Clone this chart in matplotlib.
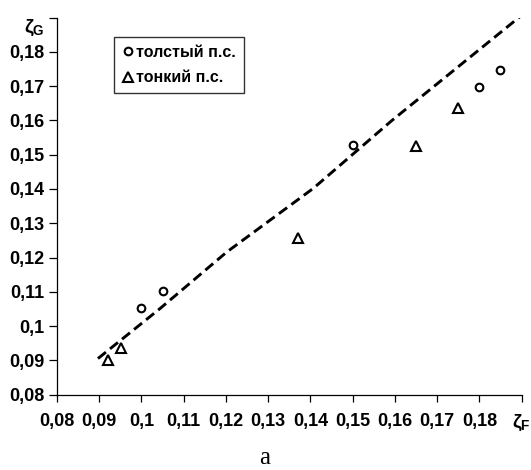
import matplotlib
matplotlib.use("Agg")
import matplotlib.pyplot as plt

# experimental points
thick_x = [0.100, 0.105, 0.150, 0.180, 0.185]
thick_y = [0.1053, 0.1103, 0.1529, 0.1698, 0.1747]
thin_x = [0.0921, 0.0952, 0.1370, 0.1649, 0.1750]
thin_y = [0.0900, 0.0937, 0.1258, 0.1526, 0.1635]

# calculated dashed curve
line_x = [0.0897, 0.1044, 0.1202, 0.1407, 0.1592, 0.1896]
line_y = [0.0905, 0.1051, 0.1216, 0.1402, 0.1599, 0.1903]

ticks = [0.08, 0.09, 0.10, 0.11, 0.12, 0.13, 0.14, 0.15, 0.16, 0.17, 0.18, 0.19]
x_labels = ["0,08", "0,09", "0,1", "0,11", "0,12", "0,13", "0,14", "0,15",
            "0,16", "0,17", "0,18", r"$\zeta_F$"]
y_labels = ["0,08", "0,09", "0,1", "0,11", "0,12", "0,13", "0,14", "0,15",
            "0,16", "0,17", "0,18", r"$\zeta_G$"]

plt.rcParams["font.family"] = ["Liberation Sans", "DejaVu Sans"]
plt.rcParams["mathtext.fontset"] = "custom"
plt.rcParams["mathtext.rm"] = "Liberation Sans:bold"
plt.rcParams["mathtext.it"] = "Liberation Sans:bold"
plt.rcParams["mathtext.bf"] = "Liberation Sans:bold"

fig = plt.figure(figsize=(5.31, 4.70), dpi=100)
ax = fig.add_axes([0.1073, 0.1606, 0.875, 0.8017])

ax.plot(line_x, line_y, color="black", lw=2.1, dashes=(3.5, 1.8),
        solid_capstyle="butt", dash_capstyle="butt")
ax.plot(thick_x, thick_y, "o", ms=5.5, mfc="white", mec="black", mew=1.5,
        label="толстый п.с.")
ax.plot(thin_x, thin_y, "^", ms=6.5, mfc="white", mec="black", mew=1.5,
        label="тонкий п.с.")

ax.set_xlim(0.08, 0.19)
ax.set_ylim(0.08, 0.19)
ax.set_xticks(ticks)
ax.set_xticklabels(x_labels)
ax.set_yticks(ticks)
ax.set_yticklabels(y_labels)

for s in ("top", "right"):
    ax.spines[s].set_visible(False)
for s in ("left", "bottom"):
    ax.spines[s].set_linewidth(0.9)

ax.tick_params(axis="x", direction="out", length=5, width=0.9, pad=8,
               labelsize=13)
ax.tick_params(axis="y", direction="out", length=6, width=0.9, pad=3,
               labelsize=13)
for lab in ax.get_xticklabels() + ax.get_yticklabels():
    lab.set_fontweight("bold")
zg = ax.get_yticklabels()[-1]
zg.set_fontsize(14)
zg.set_va("top")
ax.get_xticklabels()[-1].set_fontsize(14)

leg = ax.legend(loc="upper left", bbox_to_anchor=(0.2147, 0.9213),
                bbox_transform=fig.transFigure, frameon=True, fancybox=False,
                edgecolor="black", handlelength=0.7, handletextpad=0.2,
                labelspacing=0.65, borderpad=0.5, borderaxespad=0,
                prop={"weight": "bold", "size": 11.5})
leg.get_frame().set_linewidth(1.0)

fig.text(265 / 531, 1 - 458 / 470, "a", ha="center", va="center",
         fontsize=18, family="Liberation Serif")

fig.savefig("out.png", dpi=100)
